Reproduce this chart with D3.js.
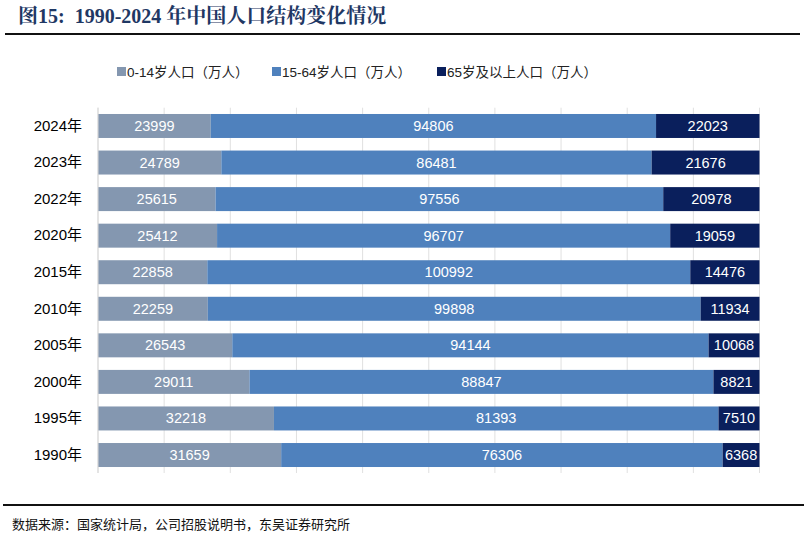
<!DOCTYPE html>
<html><head><meta charset="utf-8">
<script src="https://cdn.jsdelivr.net/npm/d3@7"></script>
<style>body{margin:0;background:#fff}svg{display:block}</style>
</head><body>
<svg id="c" width="804" height="538"></svg>
<script>
const years = ["2024年","2023年","2022年","2020年","2015年","2010年","2005年","2000年","1995年","1990年"];
const age0_14 = [23999,24789,25615,25412,22858,22259,26543,29011,32218,31659];
const age15_64 = [94806,86481,97556,96707,100992,99898,94144,88847,81393,76306];
const age65 = [22023,21676,20978,19059,14476,11934,10068,8821,7510,6368];
const seriesNames = ["0-14岁人口（万人）","15-64岁人口（万人）","65岁及以上人口（万人）"];
const colors = ["#8497B0","#4F81BD","#0A1F5C"];
const gridTicks = [0,0.1,0.2,0.3,0.4,0.5,0.6,0.7,0.8,0.9,1];

const svg = d3.select("#c");
const x = d3.scaleLinear().domain([0,1]).range([98,759.5]);
const y = d3.scaleBand().domain(years).range([107.7,473.3]).paddingInner(0.344).paddingOuter(0.172);

// title
svg.append("text").attr("x",18).attr("y",23)
  .attr("font-family","'Liberation Serif','Noto Serif CJK SC','Noto Sans CJK SC',serif")
  .attr("font-weight","bold").attr("font-size",20).attr("fill","#1F3864")
  .text("图15:\u00a0\u00a01990-2024\u00a0年中国人口结构变化情况");
svg.append("line").attr("x1",5).attr("x2",800).attr("y1",34).attr("y2",34).attr("stroke","#111").attr("stroke-width",2);

// gridlines
svg.append("g").selectAll("line").data(gridTicks).join("line")
  .attr("x1",d=>x(d)).attr("x2",d=>x(d)).attr("y1",107.7).attr("y2",473)
  .attr("stroke","#e0e0e0").attr("stroke-width",1);

const rows = years.map((yr,i)=>{
  const vals=[age0_14[i],age15_64[i],age65[i]];
  const tot=d3.sum(vals);
  let c=0;
  return vals.map((v,k)=>{const s={yr,k,v,x0:c/tot,x1:(c+v)/tot};c+=v;return s;});
}).flat();

svg.append("g").selectAll("rect").data(rows).join("rect")
  .attr("x",d=>x(d.x0)).attr("width",d=>x(d.x1)-x(d.x0))
  .attr("y",d=>y(d.yr)).attr("height",y.bandwidth())
  .attr("fill",d=>colors[d.k]);

svg.append("g").selectAll("text").data(rows).join("text")
  .attr("x",d=>(x(d.x0)+x(d.x1))/2).attr("y",d=>y(d.yr)+y.bandwidth()/2+5)
  .attr("text-anchor","middle").attr("fill","#fff")
  .attr("font-family","'Liberation Sans',Arial,sans-serif").attr("font-size",14.5)
  .text(d=>d.v);

// y axis
const yAxis = d3.axisLeft(y).tickSize(0).tickPadding(14);
const ga = svg.append("g").attr("transform","translate(96,0)").call(yAxis);
ga.select(".domain").remove();
ga.selectAll("text").attr("font-family","'Liberation Sans','Noto Sans CJK SC',sans-serif").attr("font-size",15).attr("fill","#000");
svg.append("line").attr("x1",98).attr("x2",98).attr("y1",107.7).attr("y2",473).attr("stroke","#d9d9d9");

// legend
const legX=[117,272,437];
const lg = svg.append("g").selectAll("g").data(seriesNames).join("g")
  .attr("transform",(d,i)=>`translate(${legX[i]},72)`);
lg.append("rect").attr("x",0).attr("y",-5).attr("width",9).attr("height",9).attr("fill",(d,i)=>colors[i]);
lg.append("text").attr("x",10).attr("y",4.5)
  .attr("font-family","'Liberation Sans','Noto Sans CJK SC',sans-serif").attr("font-size",13.5).attr("fill","#222")
  .text(d=>d);

// source
svg.append("line").attr("x1",3).attr("x2",804).attr("y1",505).attr("y2",505).attr("stroke","#111").attr("stroke-width",2);
svg.append("text").attr("x",12).attr("y",529)
  .attr("font-family","'Noto Sans CJK SC',sans-serif").attr("font-size",13).attr("fill","#111")
  .text("数据来源：国家统计局，公司招股说明书，东吴证券研究所");
</script>
</body></html>
